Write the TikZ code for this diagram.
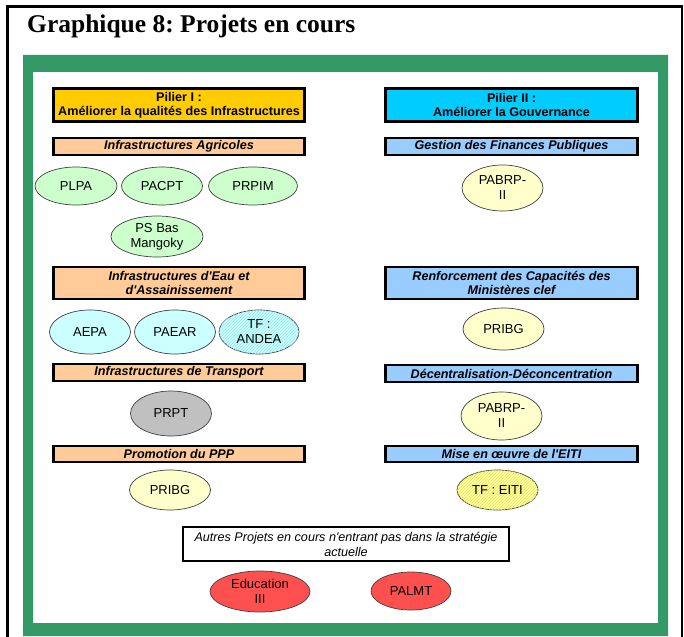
\documentclass[tikz,border=0pt]{standalone}
\usepackage{fontspec}
\setmainfont{Liberation Sans}
\newfontfamily\titlefont{Liberation Serif}
\usetikzlibrary{shapes.geometric,patterns}
\frenchspacing
\definecolor{frgreen}{HTML}{339966}
\definecolor{pilA}{HTML}{FFCC00}
\definecolor{pilB}{HTML}{00CCFF}
\definecolor{hdA}{HTML}{FFCC99}
\definecolor{hdB}{HTML}{99CCFF}
\definecolor{elGreen}{HTML}{CCFFCC}
\definecolor{elCyan}{HTML}{CCFFFF}
\definecolor{elYellow}{HTML}{FFFFCC}
\definecolor{elGray}{HTML}{C0C0C0}
\definecolor{elRed}{HTML}{FF5050}
\definecolor{hatchY}{HTML}{FFFF66}
\definecolor{hatchC}{HTML}{99E6F0}
\newcommand{\apo}{\textquotesingle}
\begin{document}
\begin{tikzpicture}[x=1pt,y=-1pt,
  pilbox/.style={draw=black,line width=2.6pt,rectangle,inner sep=0pt,align=center,
    font=\fontsize{12.6}{14.5}\selectfont\bfseries},
  hdbox/.style={draw=black,line width=2.6pt,rectangle,inner sep=0pt,align=center,
    font=\fontsize{12.6}{14.5}\selectfont\bfseries\itshape},
  proj/.style={draw=black!75,line width=0.7pt,ellipse,inner sep=0pt,align=center,
    font=\fontsize{13}{15}\selectfont},
]
\useasboundingbox (0,0) rectangle (684,636);
% outer black frame
\draw[line width=2.2pt] (7.5,640) -- (7.5,6.5) -- (682,6.5) -- (682,640);
% title
\node[anchor=base west,inner sep=0pt,font=\titlefont\fontsize{25.5}{28}\selectfont\bfseries] (title) at (27,32.5) {Graphique 8: Projets en cours};
% green frame
\fill[frgreen,even odd rule] (23,55) rectangle (668,636) (33,72) rectangle (658,623);

% Pilier headers
\node[pilbox,fill=pilA,minimum width=251pt,minimum height=33pt] (p1) at (179,105) {Pilier I :\\Améliorer la qualités des Infrastructures};
\node[pilbox,fill=pilB,minimum width=252pt,minimum height=33pt] (p2) at (511.5,105) {Pilier II :\\Améliorer la Gouvernance};

% left column
\node[hdbox,fill=hdA,minimum width=251pt,minimum height=17pt] (h1) at (179,146.5) {Infrastructures Agricoles};
\node[proj,fill=elGreen,minimum width=82pt,minimum height=38pt] (plpa) at (76,186) {PLPA};
\node[proj,fill=elGreen,minimum width=81pt,minimum height=38pt] (pacpt) at (162,186) {PACPT};
\node[proj,fill=elGreen,minimum width=89pt,minimum height=38pt] (prpim) at (253,186) {PRPIM};
\node[proj,fill=elGreen,minimum width=92pt,minimum height=41pt] (psbas) at (157,236.5) {PS Bas\\Mangoky};

\node[hdbox,fill=hdA,minimum width=251pt,minimum height=32pt] (h2) at (179,283) {Infrastructures d\apo Eau et\\d\apo Assainissement};
\node[proj,fill=elCyan,minimum width=81pt,minimum height=44pt] (aepa) at (90,332) {AEPA};
\node[proj,fill=elCyan,minimum width=81pt,minimum height=44pt] (paear) at (175,332) {PAEAR};
\node[proj,fill=elCyan,postaction={pattern=north east lines,pattern color=hatchC},minimum width=80pt,minimum height=44pt] (andea) at (259,332) {TF :\\ANDEA};

\node[hdbox,fill=hdA,minimum width=251pt,minimum height=17pt] (h3) at (179,372.5) {Infrastructures de Transport};
\node[proj,fill=elGray,minimum width=81pt,minimum height=45pt] (prpt) at (171,413.5) {PRPT};

\node[hdbox,fill=hdA,minimum width=251pt,minimum height=16pt] (h4) at (179,454) {Promotion du PPP};
\node[proj,fill=elYellow,minimum width=81pt,minimum height=40pt] (pribgA) at (170,490) {PRIBG};

% right column
\node[hdbox,fill=hdB,minimum width=252pt,minimum height=17pt] (g1) at (511.5,146.5) {Gestion des Finances Publiques};
\node[proj,fill=elYellow,minimum width=81pt,minimum height=46pt] (pabrpA) at (502.5,188) {PABRP-\\II};

\node[hdbox,fill=hdB,minimum width=252pt,minimum height=32pt] (g2) at (511.5,283) {Renforcement des Capacités des\\Ministères clef};
\node[proj,fill=elYellow,minimum width=81pt,minimum height=42pt] (pribgB) at (503.5,329) {PRIBG};

\node[hdbox,fill=hdB,minimum width=252pt,minimum height=17pt] (g3) at (511.5,373.5) {Décentralisation-Déconcentration};
\node[proj,fill=elYellow,minimum width=81pt,minimum height=48pt] (pabrpB) at (501.5,416) {PABRP-\\II};

\node[hdbox,fill=hdB,minimum width=252pt,minimum height=16pt] (g4) at (511.5,454) {Mise en œuvre de l\apo EITI};
\node[proj,fill=hatchY!60,postaction={pattern=north east lines,pattern color=hatchY!90!black},minimum width=81pt,minimum height=40pt] (eiti) at (497.5,490) {TF : EITI};

% others
\node[draw=black,line width=2.6pt,rectangle,inner sep=0pt,align=center,fill=white,
  font=\fontsize{12.6}{15}\selectfont\itshape,minimum width=326pt,minimum height=34pt] (autres) at (346,544) {Autres Projets en cours n\apo entrant pas dans la stratégie\\actuelle};
\node[proj,fill=elRed,minimum width=100pt,minimum height=41pt] (educ) at (260,591.5) {Education\\III};
\node[proj,fill=elRed,minimum width=80pt,minimum height=38pt] (palmt) at (411,591) {PALMT};
\end{tikzpicture}
\end{document}
